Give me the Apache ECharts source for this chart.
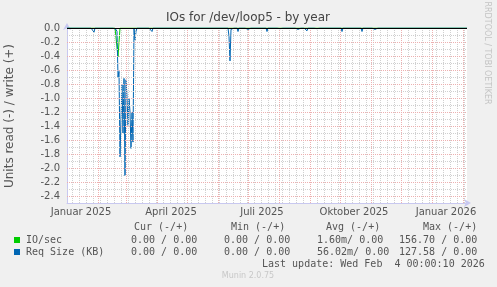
<!DOCTYPE html>
<html>
<head>
<meta charset="utf-8">
<script src="https://cdn.jsdelivr.net/npm/echarts@6/dist/echarts.min.js"></script>
<style>
html,body{margin:0;padding:0;background:#F0F0F0;}
#chart{width:497px;height:287px;}
</style>
</head>
<body>
<div id="chart"></div>
<script>
// ---- data (x = days since 1 Jan 2025, one plot pixel per day) ----
const xLabelDays = [14, 104, 195, 287, 379];
const xLabelNames = ['Januar 2025', 'April 2025', 'Juli 2025', 'Oktober 2025', 'Januar 2026'];
const monthStartDays = [31, 59, 90, 120, 151, 181, 212, 243, 273, 304, 334, 365, 396];
const yTickValues = [0, -0.2, -0.4, -0.6, -0.8, -1.0, -1.2, -1.4, -1.6, -1.8, -2.0, -2.2, -2.4];

// IO/sec, read (negated), non-zero days only
const ioDays = [51, 52];
const ioRead = [-0.41, -0.40];

// Req Size (KB), read (negated), non-zero days only
const reqDays = [13, 27, 49, 50, 51, 52, 53, 54, 55, 56, 57, 58, 59, 60, 61, 62, 63, 64, 65, 66, 68, 69,
  85, 91, 100, 111, 123, 148, 162, 163, 164, 171, 181, 200, 213, 231, 240, 250, 263, 275, 295, 301, 308, 315];
const reqRead = [-0.02, -0.06, -0.02, -0.05, -0.70, -0.62, -1.84, -1.30, -0.81, -1.50, -0.72, -2.11, -0.74, -0.98, -1.39, -1.00, -1.20, -1.72, -1.20, -1.63, -0.17, -0.05,
  -0.05, -0.01, -0.01, -0.01, -0.01, -0.01, -0.12, -0.47, -0.02, -0.05, -0.02, -0.05, -0.01, -0.02, -0.04, -0.01, -0.01, -0.05, -0.05, -0.01, -0.02, -0.02];

const DAYS = 400;

function buildSeries(days, vals) {
  const m = {};
  days.forEach((d, i) => { m[d] = vals[i]; });
  const out = [];
  for (let d = 0; d <= DAYS; d++) out.push([d, m[d] !== undefined ? m[d] : 0]);
  return out;
}

const GRAY = '#D0D0D0';
const RED = '#EDB0B0';
const gridLines = [];
// weekly minor lines (Mondays)
for (let d = 5; d < DAYS; d += 7) {
  if (monthStartDays.indexOf(d) < 0) gridLines.push({ xAxis: d, lineStyle: { color: GRAY, type: [1, 1], width: 1 } });
}
monthStartDays.forEach(d => gridLines.push({ xAxis: d, lineStyle: { color: RED, type: [1, 1], width: 1 } }));
for (let k = 1; k <= 24; k++) {
  const v = -k / 10;
  gridLines.push({ yAxis: v, lineStyle: { color: (k % 2 === 0) ? RED : GRAY, type: [1, 1], width: 1 } });
}

const chart = echarts.init(document.getElementById('chart'), null, { renderer: 'canvas' });
const mono = '"DejaVu Sans Mono", monospace';
const sans = '"DejaVu Sans", sans-serif';
const TXT = '#555555';

function txt(x, y, s, opts) {
  return Object.assign({
    type: 'text', x: x, y: y, silent: true,
    style: Object.assign({ text: s, font: '10px ' + mono, fill: TXT, textVerticalAlign: 'middle' }, opts || {})
  });
}

const graphics = [
  txt(134, 227, 'Cur (-/+)'),
  txt(231, 227, 'Min (-/+)'),
  txt(326, 227, 'Avg (-/+)'),
  txt(423, 227, 'Max (-/+)'),
  { type: 'rect', shape: { x: 14, y: 237, width: 6, height: 6 }, style: { fill: '#00CC00' }, silent: true },
  txt(26, 240, 'IO/sec'),
  txt(131, 240, '0.00 / 0.00'),
  txt(224, 240, '0.00 / 0.00'),
  txt(317, 240, '1.60m/ 0.00'),
  txt(399, 240, '156.70 / 0.00'),
  { type: 'rect', shape: { x: 14, y: 249, width: 6, height: 6 }, style: { fill: '#0066B3' }, silent: true },
  txt(26, 252, 'Req Size (KB)'),
  txt(131, 252, '0.00 / 0.00'),
  txt(224, 252, '0.00 / 0.00'),
  txt(317, 252, '56.02m/ 0.00'),
  txt(399, 252, '127.58 / 0.00'),
  txt(262, 264, 'Last update: Wed Feb  4 00:00:10 2026'),
  txt(248, 276, 'Munin 2.0.75', { font: '8px ' + sans, fill: '#C8C8C8', textAlign: 'center' }),
  txt(248, 18, 'IOs for /dev/loop5 - by year', { font: '12px ' + sans, fill: '#444444', textAlign: 'center' }),
  {
    type: 'text', x: 10, y: 116, rotation: Math.PI / 2, silent: true,
    style: { text: 'Units read (-) / write (+)', font: '12px ' + sans, fill: TXT, textAlign: 'center', textVerticalAlign: 'middle' }
  },
  {
    type: 'text', x: 487, y: 53, rotation: -Math.PI / 2, silent: true,
    style: { text: 'RRDTOOL / TOBI OETIKER', font: '8px ' + sans, fill: '#C4C4C4', textAlign: 'center', textVerticalAlign: 'middle' }
  }
];

chart.setOption({
  animation: false,
  backgroundColor: '#F0F0F0',
  grid: { left: 67, top: 28, width: 400, height: 175, show: true, backgroundColor: '#FFFFFF', borderWidth: 0 },
  xAxis: {
    type: 'value', min: 0, max: DAYS,
    splitLine: { show: false },
    axisTick: { show: false },
    axisLine: { show: true, onZero: false, lineStyle: { color: '#C8C8F0', width: 1 }, symbol: ['none', 'arrow'], symbolSize: [6, 7], symbolOffset: [0, 4] },
    axisLabel: {
      customValues: xLabelDays, margin: 4,
      formatter: v => { const i = xLabelDays.indexOf(Math.round(v)); return i >= 0 ? xLabelNames[i] : ''; },
      color: TXT, fontFamily: sans, fontSize: 10
    }
  },
  yAxis: {
    type: 'value', min: -2.5, max: 0,
    splitLine: { show: false },
    axisTick: { show: false },
    axisLine: { show: true, onZero: false, lineStyle: { color: '#C8C8F0', width: 1 }, symbol: ['none', 'arrow'], symbolSize: [6, 7], symbolOffset: [0, 5] },
    axisLabel: {
      customValues: yTickValues, margin: 7,
      formatter: v => v.toFixed(1),
      color: TXT, fontFamily: sans, fontSize: 10
    }
  },
  graphic: graphics,
  series: [
    {
      name: 'grid', type: 'line', data: [], z: 1, silent: true,
      markLine: { silent: true, symbol: ['none', 'none'], label: { show: false }, animation: false, data: gridLines }
    },
    {
      name: 'IO/sec', type: 'line', z: 3, showSymbol: false, silent: true,
      lineStyle: { color: '#00CC00', width: 1 }, itemStyle: { color: '#00CC00' },
      data: buildSeries(ioDays, ioRead)
    },
    {
      name: 'Req Size (KB)', type: 'line', z: 4, showSymbol: false, silent: true,
      lineStyle: { color: '#0066B3', width: 1 }, itemStyle: { color: '#0066B3' },
      data: buildSeries(reqDays, reqRead),
      markLine: { silent: true, symbol: ['none', 'none'], label: { show: false }, animation: false,
        data: [{ yAxis: 0, lineStyle: { color: '#000000', type: 'solid', width: 1 } }] }
    }
  ]
});
</script>
</body>
</html>
